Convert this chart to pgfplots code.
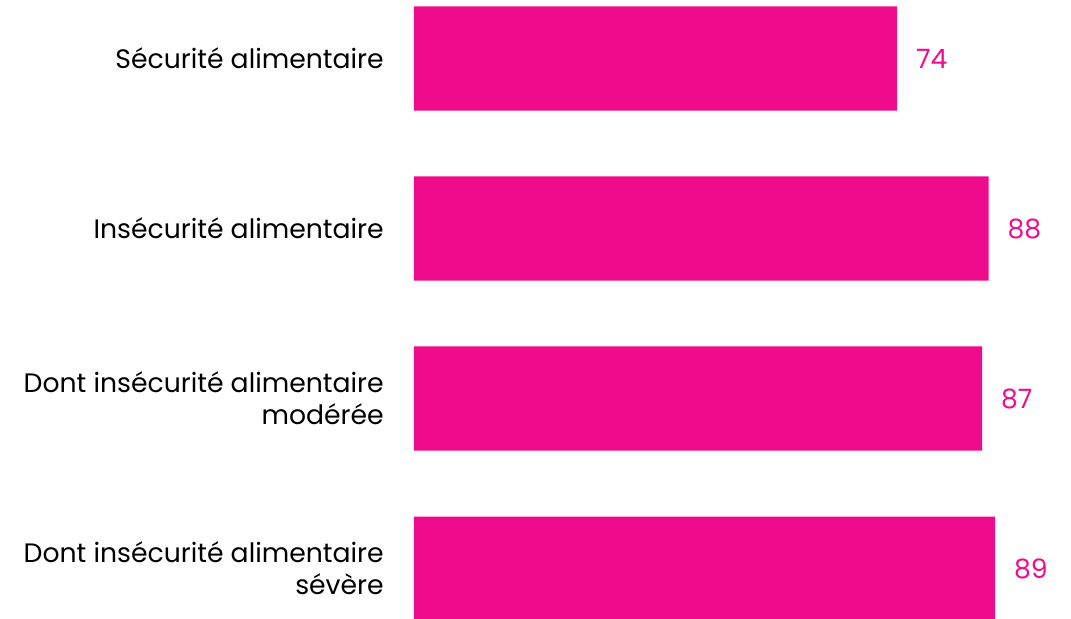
\documentclass[border=0pt]{standalone}
\usepackage{pgfplots}
\pgfplotsset{compat=1.18}
\usepackage{fontspec}
\setmainfont{Poppins}
\definecolor{rose}{HTML}{EE0C8C}
\begin{document}
\begin{tikzpicture}
  % cadre de la page : 1071 x 618 px a 0.75pt/px
  \useasboundingbox (-310.5pt,0) rectangle (492.75pt,463.5pt);
  \begin{axis}[
    scale only axis,
    anchor=south west,
    at={(0,0)},
    width=489.75pt,
    height=463.5pt,
    xbar,
    bar width=0.612,
    xmin=0, xmax=100,
    ymin=-0.344, ymax=3.291,
    y dir=reverse,
    ytick={0,1,2,3},
    yticklabels={
      Sécurité alimentaire,
      Insécurité alimentaire,
      {Dont insécurité alimentaire\\modérée},
      {Dont insécurité alimentaire\\sévère}},
    yticklabel style={align=right, font=\fontsize{20}{24}\selectfont, inner sep=0pt, xshift=-22.5pt},
    major tick length=0pt,
    xtick=\empty,
    axis line style={draw=none},
    /pgf/number format/assume math mode=true,
    nodes near coords,
    every node near coord/.append style={
      font=\fontsize{20}{24}\selectfont,
      color=rose,
      anchor=west,
      inner sep=0pt,
      xshift=14pt
    },
    clip=false
  ]
    \addplot[fill=rose, draw=none] coordinates {
      (74,0) (88,1) (87,2) (89,3)
    };
  \end{axis}
\end{tikzpicture}
\end{document}
